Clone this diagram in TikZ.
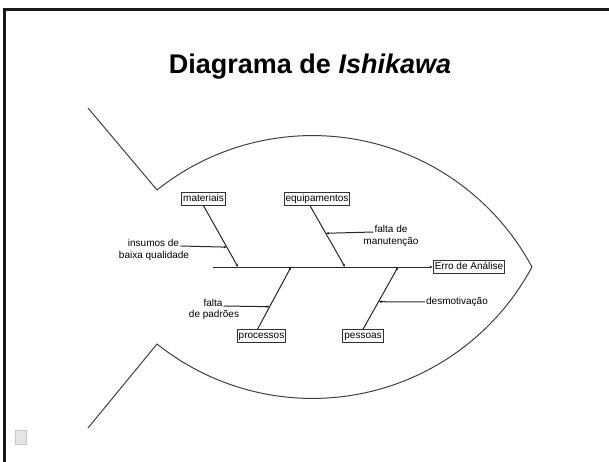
\documentclass[tikz,border=0pt]{standalone}
\usepackage{fontspec}
\setmainfont{Liberation Sans}
\usetikzlibrary{arrows.meta,calc}

\begin{document}
\begin{tikzpicture}[x=1pt,y=1pt,
		outline/.style={draw=black!75, line width=1pt},
		causebox/.style={draw=black!80, line width=1pt, inner sep=1.5pt, font=\fontsize{10}{12}\selectfont, text height=7.4pt, text depth=2pt},
		bone/.style={draw=black!85, line width=1pt, -{Latex[length=3pt,width=2.8pt]}},
		note/.style={inner sep=1pt, font=\fontsize{10}{12}\selectfont, text height=7.4pt, text depth=2pt}]
			\useasboundingbox (0,0) rectangle (609,461);
			% slide frame
			\draw [line width=3pt, black!90] (4,-10) -- (4,451.5) -- (620,451.5);
			\draw [gray!45, fill=gray!20] (15,17) rectangle (26,31);
			% title
			\node[anchor=base, font=\bfseries\fontsize{27}{32}\selectfont] (title) at (310,387) {Diagrama de \textit{Ishikawa}};
			% fish body
			\draw [outline] (88,353) -- (157,271) arc [start angle=128.6, end angle=28.2, radius=249.1];
			\draw [outline] (88,33) -- (157,117) arc [start angle=-128.6, end angle=-28.2, radius=249.1];
			% effect and spine
			\node[causebox] (erro) at (469,194) {Erro de Análise};
			\coordinate (tail) at (213,194);
			\draw [bone] (tail) -- (erro.west);
			% cause boxes
			\node[causebox] (materiais) at (203.5,262) {materiais};
			\node[causebox] (equipamentos) at (317,262) {equipamentos};
			\node[causebox] (processos) at (261.5,125) {processos};
			\node[causebox] (pessoas) at (363,125) {pessoas};
			% bones
			\coordinate (m-end) at (238,194);
			\coordinate (e-end) at (345,194);
			\coordinate (pr-end) at (291,194);
			\coordinate (pe-end) at (398,194);
			\draw [bone] (materiais.south) -- (m-end);
			\draw [bone] ([xshift=-7pt]equipamentos.south) -- (e-end);
			\draw [bone] ([xshift=-4pt]processos.north) -- (pr-end);
			\draw [bone] (pessoas.north) -- (pe-end);
			% points where the small causes hit the bones
			\coordinate (m-hit) at ($(materiais.south)!0.676!(m-end)$);
			\coordinate (e-hit) at ($([xshift=-7pt]equipamentos.south)!0.45!(e-end)$);
			\coordinate (pr-hit) at ($([xshift=-4pt]processos.north)!0.363!(pr-end)$);
			\coordinate (pe-hit) at ($(pessoas.north)!0.443!(pe-end)$);
			% small causes
			\node[note] (insumos) at (153.5,217) {insumos de};
			\node[note] (baixa) at (154,205) {baixa qualidade};
			\draw [bone] ([yshift=-2pt]insumos.east) -- (m-hit);
			\node[note] (falta) at (391,231) {falta de};
			\node[note] (manut) at (391,219.5) {manutenção};
			\draw [bone] ([yshift=-2pt]falta.west) -- (e-hit);
			\node[note] (faltap) at (213,157) {falta};
			\node[note] (padroes) at (214,146.5) {de padrões};
			\draw [bone] ([yshift=-2pt]faltap.east) -- (pr-hit);
			\node[note] (desmot) at (457,159) {desmotivação};
			\draw [bone] (desmot.west) -- (pe-hit);
		\end{tikzpicture}
\end{document}
